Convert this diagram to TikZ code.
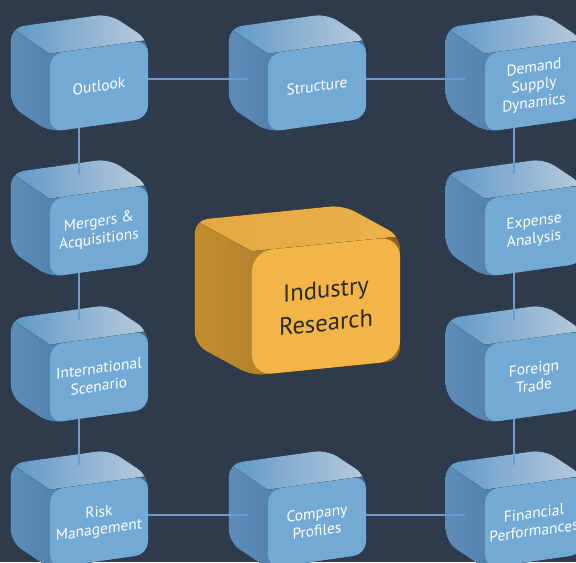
\documentclass[tikz,border=0pt]{standalone}
\usepackage{fontspec}
\setmainfont{PT Sans}
\usetikzlibrary{calc,backgrounds}

\definecolor{bgcol}{HTML}{2E3B4C}
\definecolor{blueface}{HTML}{73AAD5}
\definecolor{linkcol}{HTML}{6B9BD0}
\definecolor{orangeface}{HTML}{F3B548}
\definecolor{textdark}{HTML}{2A2A2A}
\definecolor{bluesidea}{HTML}{5D8FBB}
\definecolor{bluesideb}{HTML}{3F6A8E}
\definecolor{bluetopa}{HTML}{5F98C8}
\definecolor{bluetopb}{HTML}{B8CBDC}
\definecolor{orangesidea}{HTML}{C3902F}
\definecolor{orangesideb}{HTML}{8C6326}
\definecolor{orangetopa}{HTML}{E2A840}
\definecolor{orangetopb}{HTML}{EBB24D}

\tikzset{
  boxface/.style={rectangle, align=center, inner sep=1pt},
  face/.style={boxface, yslant=0.14, rounded corners=0.32cm,
    minimum width=2.45cm, minimum height=1.95cm,
    fill=blueface, text=white, font=\fontsize{11}{12.6}\selectfont},
  mainface/.style={boxface, yslant=0.1, rounded corners=0.5cm,
    minimum width=3.7cm, minimum height=3.1cm,
    fill=orangeface, text=textdark, font=\fontsize{17.5}{23.5}\selectfont},
  blueside/.style={left color=bluesidea, right color=bluesideb},
  bluetop/.style={left color=bluetopa, right color=bluetopb},
  orangeside/.style={left color=orangesidea, right color=orangesideb},
  orangetop/.style={left color=orangetopa, right color=orangetopb},
  link/.style={draw=linkcol, line width=1.4pt},
}

\begin{document}
\begin{tikzpicture}[x=0.025cm, y=-0.025cm]
      \useasboundingbox (0,0) rectangle (576,562);
      % front faces
      \node[face] (outlook) at (99,86) {Outlook};
      \node[face] (structure) at (317,86) {Structure};
      \node[face] (demand) at (534,86) {Demand\\Supply\\Dynamics};
      \node[face] (mergers) at (99,231) {Mergers \&\\Acquisitions};
      \node[face] (expense) at (534,231) {Expense\\Analysis};
      \node[face] (international) at (99,377) {International\\Scenario};
      \node[face] (foreign) at (534,377) {Foreign\\Trade};
      \node[face] (risk) at (99,522) {Risk\\Management};
      \node[face] (company) at (317,522) {Company\\Profiles};
      \node[face] (financial) at (534,522) {Financial\\Performances};
      \node[mainface] (industry) at (326,306) {Industry\\Research};
      % sides and tops of the boxes
      \begin{pgfonlayer}{background}
        \fill[bgcol] (0,0) rectangle (576,562);
        \foreach \n/\dx/\dy/\sd/\tp in {outlook/-39/-26/blueside/bluetop,
            structure/-39/-26/blueside/bluetop, demand/-39/-26/blueside/bluetop,
            mergers/-39/-26/blueside/bluetop, expense/-39/-26/blueside/bluetop,
            international/-39/-26/blueside/bluetop, foreign/-39/-26/blueside/bluetop,
            risk/-39/-26/blueside/bluetop, company/-39/-26/blueside/bluetop,
            financial/-39/-26/blueside/bluetop, industry/-57/-31/orangeside/orangetop} {
          \coordinate (fnw) at (\n.north west);
          \coordinate (fne) at (\n.north east);
          \coordinate (fse) at (\n.south east);
          \coordinate (fsw) at (\n.south west);
          \coordinate (bnw) at ($(fnw)+(\dx,\dy)$);
          \coordinate (bne) at ($(fne)+(\dx,\dy)$);
          \coordinate (bsw) at ($(fsw)+(\dx,\dy)$);
          \begin{scope}
            \clip[rounded corners=0.32cm] (fsw) -- (bsw) -- (bnw) -- (bne) -- (fne) -- (fse) -- cycle;
            \fill[\sd] ($(bnw)+(-5,-40)$) rectangle ($(fse)+(5,20)$);
            \fill[\tp] (fnw) -- (bnw) -- (bne) -- (fne) -- cycle;
          \end{scope}
        }
      \end{pgfonlayer}
      % connectors
      \draw[link, shorten >=0.5cm] (outlook.east) -- (outlook.east -| structure.west);
      \draw[link, shorten >=0.5cm] (structure.east) -- (structure.east -| demand.west);
      \draw[link, shorten >=0.5cm] (risk.east) -- (risk.east -| company.west);
      \draw[link, shorten >=0.5cm] (company.east) -- (company.east -| financial.west);
      \draw[link, shorten >=0.52cm] ($(outlook.south west)!0.3!(outlook.south east)$) -- ($(mergers.north west)!0.3!(mergers.north east)$);
      \draw[link, shorten >=0.52cm] ($(mergers.south west)!0.3!(mergers.south east)$) -- ($(international.north west)!0.3!(international.north east)$);
      \draw[link, shorten >=0.52cm] ($(international.south west)!0.3!(international.south east)$) -- ($(risk.north west)!0.3!(risk.north east)$);
      \draw[link, shorten >=0.52cm] ($(demand.south west)!0.3!(demand.south east)$) -- ($(expense.north west)!0.3!(expense.north east)$);
      \draw[link, shorten >=0.52cm] ($(expense.south west)!0.3!(expense.south east)$) -- ($(foreign.north west)!0.3!(foreign.north east)$);
      \draw[link, shorten >=0.52cm] ($(foreign.south west)!0.3!(foreign.south east)$) -- ($(financial.north west)!0.3!(financial.north east)$);
    \end{tikzpicture}
\end{document}
